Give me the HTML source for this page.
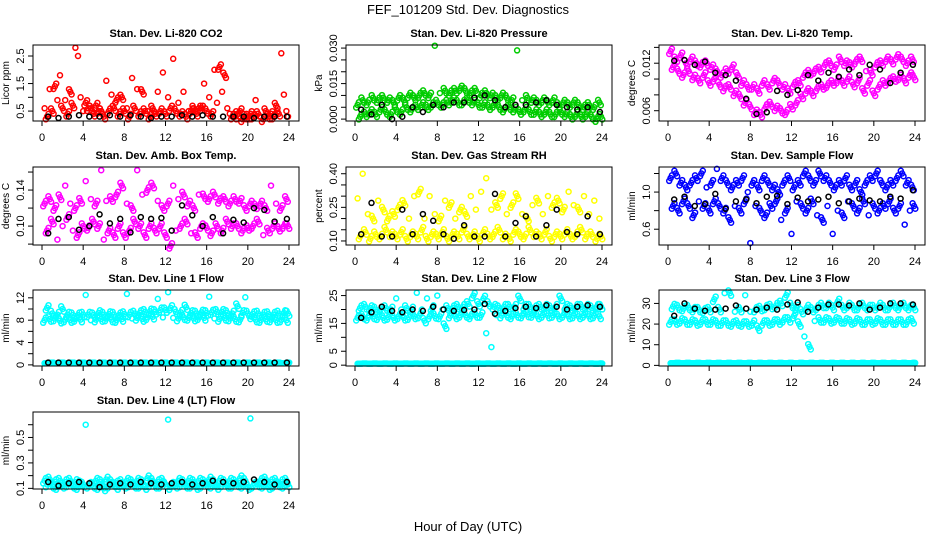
<!DOCTYPE html>
<html><head><meta charset="utf-8">
<style>
html,body{margin:0;padding:0;background:#fff;}
svg{display:block;font-family:"Liberation Sans",sans-serif;}
</style></head>
<body>
<svg id="chart" width="936" height="540" viewBox="0 0 936 540" xmlns="http://www.w3.org/2000/svg">
<text x="468" y="14" text-anchor="middle" font-size="13">FEF_101209  Std. Dev. Diagnostics</text>
<text x="468" y="531" text-anchor="middle" font-size="13">Hour of Day (UTC)</text>
</svg>
<script>
// ---- data ----
const hoursHalf = [0.25,0.75,1.25,1.75,2.25,2.75,3.25,3.75,4.25,4.75,5.25,5.75,6.25,6.75,7.25,7.75,8.25,8.75,9.25,9.75,10.25,10.75,11.25,11.75,12.25,12.75,13.25,13.75,14.25,14.75,15.25,15.75,16.25,16.75,17.25,17.75,18.25,18.75,19.25,19.75,20.25,20.75,21.25,21.75,22.25,22.75,23.25,23.75];
const hoursHalfB = [0.5,1,1.5,2,2.5,3,3.5,4,4.5,5,5.5,6,6.5,7,7.5,8,8.5,9,9.5,10,10.5,11,11.5,12,12.5,13,13.5,14,14.5,15,15.5,16,16.5,17,17.5,18,18.5,19,19.5,20,20.5,21,21.5,22,22.5,23,23.5,23.9];
const hoursBlack = [0.6,1.6,2.6,3.6,4.6,5.6,6.6,7.6,8.6,9.6,10.6,11.6,12.6,13.6,14.6,15.6,16.6,17.6,18.6,19.6,20.6,21.6,22.6,23.8];

const co2A = [0.6,1.3,1.4,1.8,0.9,1.2,2.8,1.0,0.8,0.6,0.7,0.5,1.6,1.1,0.9,1.0,0.6,1.7,1.3,1.2,0.5,0.6,1.2,1.9,1.0,2.4,0.8,1.2,0.5,0.6,0.6,1.5,1.0,2.0,2.1,1.8,0.4,0.3,0.5,0.3,0.4,0.9,0.3,0.5,0.4,0.7,2.6,0.5];
const co2B = [0.3,0.5,0.9,0.6,0.4,0.7,2.5,0.5,0.6,0.4,0.5,0.3,0.5,0.6,0.4,0.5,0.3,0.6,0.4,0.5,0.3,0.4,0.5,0.4,0.6,0.5,0.4,0.3,0.5,0.4,0.6,0.5,0.4,0.8,1.2,0.6,0.3,0.4,0.2,0.3,0.3,0.4,0.2,0.3,0.3,0.4,1.1,0.3];
const co2K = [0.3,0.25,0.3,0.35,0.3,0.3,0.35,0.3,0.35,0.3,0.25,0.3,0.3,0.35,0.3,0.35,0.3,0.3,0.3,0.3,0.25,0.3,0.3,0.3];

const presA = [0.006,0.008,0.007,0.009,0.008,0.009,0.008,0.007,0.009,0.008,0.010,0.009,0.010,0.011,0.010,0.031,0.011,0.012,0.011,0.012,0.013,0.012,0.011,0.012,0.010,0.011,0.010,0.009,0.010,0.009,0.008,0.029,0.008,0.009,0.008,0.007,0.008,0.007,0.008,0.006,0.007,0.006,0.007,0.006,0.005,0.006,0.005,0.007];
const presB = [0.001,0.002,0.003,0.002,0.004,0.003,0.002,0.004,0.003,0.005,0.004,0.005,0.006,0.005,0.006,0.007,0.006,0.007,0.008,0.007,0.007,0.008,0.007,0.006,0.006,0.005,0.006,0.005,0.004,0.005,0.004,0.003,0.004,0.003,0.003,0.002,0.003,0.002,0.002,0.003,0.002,0.001,0.002,0.001,0.002,0.001,0.000,0.001];
const presK = [0.004,0.002,0.006,0.000,0.001,0.005,0.003,0.006,0.005,0.007,0.007,0.009,0.010,0.008,0.005,0.006,0.006,0.007,0.008,0.006,0.005,0.004,0.005,0.003];

const tempA = [0.0135,0.0125,0.013,0.012,0.0125,0.012,0.0118,0.012,0.0115,0.011,0.0105,0.011,0.0115,0.0105,0.0095,0.009,0.009,0.0085,0.0095,0.009,0.0098,0.0095,0.009,0.0085,0.0093,0.0095,0.0105,0.0108,0.011,0.0112,0.0118,0.012,0.0115,0.0125,0.012,0.0118,0.0122,0.0125,0.011,0.0108,0.0118,0.012,0.0125,0.0122,0.0128,0.0125,0.012,0.0125];
const tempB = [0.0115,0.011,0.0105,0.011,0.0102,0.0098,0.0105,0.0095,0.01,0.0093,0.0088,0.009,0.0082,0.0078,0.007,0.0065,0.0058,0.0055,0.0065,0.0068,0.0063,0.006,0.0058,0.0065,0.007,0.0078,0.0085,0.0082,0.0088,0.009,0.0092,0.0095,0.0098,0.0095,0.01,0.0093,0.0098,0.0085,0.0095,0.0082,0.009,0.0095,0.0098,0.01,0.0102,0.0098,0.0105,0.0102];
const tempK = [0.0123,0.0124,0.0118,0.0122,0.0108,0.0105,0.0098,0.0075,0.0056,0.0058,0.0085,0.0080,0.0086,0.0105,0.0098,0.0108,0.0103,0.0112,0.0105,0.0118,0.0112,0.0095,0.0108,0.0118];

const ambA = [0.125,0.13,0.12,0.132,0.145,0.125,0.12,0.128,0.15,0.13,0.125,0.162,0.128,0.13,0.135,0.145,0.125,0.12,0.162,0.135,0.14,0.145,0.128,0.12,0.125,0.145,0.13,0.135,0.125,0.12,0.135,0.133,0.13,0.135,0.128,0.13,0.125,0.13,0.128,0.12,0.125,0.122,0.125,0.12,0.145,0.125,0.12,0.13];
const ambB = [0.095,0.105,0.085,0.1,0.11,0.095,0.09,0.1,0.098,0.105,0.1,0.085,0.095,0.09,0.1,0.09,0.095,0.105,0.1,0.09,0.1,0.095,0.1,0.09,0.078,0.095,0.1,0.105,0.092,0.09,0.1,0.098,0.092,0.1,0.095,0.105,0.1,0.1,0.095,0.098,0.1,0.105,0.09,0.095,0.1,0.097,0.1,0.1];
const ambK = [0.092,0.108,0.11,0.096,0.1,0.113,0.103,0.108,0.093,0.11,0.108,0.109,0.095,0.123,0.112,0.1,0.11,0.092,0.107,0.104,0.12,0.118,0.105,0.108];

const rhA = [0.29,0.4,0.22,0.2,0.28,0.24,0.2,0.22,0.25,0.27,0.2,0.3,0.32,0.2,0.3,0.22,0.2,0.28,0.26,0.2,0.24,0.22,0.3,0.24,0.32,0.38,0.24,0.26,0.3,0.22,0.26,0.3,0.22,0.2,0.26,0.28,0.22,0.3,0.26,0.28,0.24,0.32,0.26,0.24,0.3,0.22,0.28,0.2];
const rhB = [0.12,0.14,0.11,0.13,0.12,0.15,0.13,0.12,0.14,0.11,0.13,0.12,0.15,0.11,0.13,0.12,0.14,0.11,0.13,0.12,0.15,0.12,0.13,0.11,0.14,0.12,0.13,0.15,0.12,0.11,0.14,0.13,0.12,0.15,0.13,0.12,0.14,0.11,0.13,0.12,0.14,0.12,0.13,0.15,0.12,0.13,0.11,0.12];
const rhK = [0.13,0.27,0.12,0.12,0.24,0.13,0.22,0.19,0.13,0.11,0.17,0.12,0.12,0.31,0.12,0.18,0.21,0.12,0.17,0.24,0.14,0.13,0.21,0.13];

const flowA = [1.15,1.2,1.1,1.05,1.1,1.15,1.2,1.05,1.1,1.25,1.15,1.1,1.05,1.1,1.15,1.0,1.1,1.05,1.15,1.1,1.05,1.0,1.1,1.15,1.05,1.1,1.2,1.15,1.1,1.2,1.15,1.1,1.05,1.1,1.15,1.05,1.1,1.0,1.1,1.15,1.2,1.1,1.05,1.1,1.15,1.2,1.1,1.05];
const flowB = [0.85,0.8,0.9,0.85,0.75,0.9,0.85,0.8,0.9,0.85,0.8,0.7,0.85,0.8,0.9,0.45,0.85,0.8,0.75,0.85,0.9,0.7,0.8,0.55,0.9,0.85,0.8,0.9,0.75,0.7,0.85,0.55,0.8,0.75,0.9,0.85,0.8,0.9,0.75,0.85,0.8,0.85,0.9,0.8,0.85,0.65,0.8,0.85];
const flowK = [0.92,0.95,0.85,0.87,0.98,0.82,0.9,0.92,0.88,0.95,0.96,0.87,0.94,0.9,0.92,0.95,0.88,0.9,0.93,0.91,0.9,0.95,0.93,1.02];

const l1A = [8.0,8.2,8.3,7.9,8.1,8.0,8.2,8.1,12.5,8.0,8.1,8.2,8.3,8.1,8.0,8.2,12.7,8.3,8.4,8.2,8.5,8.6,11.8,8.5,13.0,8.4,8.3,8.5,8.4,8.3,8.5,8.4,12.2,8.3,8.2,8.4,8.3,8.2,8.1,12.1,8.2,8.1,8.0,8.2,8.1,8.0,8.1,8.0];
const l1B = [10.2,9.2,9.0,10.0,9.0,8.9,8.9,9.0,9.0,8.9,9.3,9.0,9.1,9.0,8.9,9.1,9.0,9.2,9.3,9.5,9.6,9.5,9.8,9.8,10.2,9.5,9.4,10.3,9.3,9.2,9.4,9.3,9.4,9.5,9.5,9.3,9.2,10.5,9.3,9.2,9.1,9.2,9.0,9.1,9.0,9.2,9.3,9.2];
const l1Z = [0.3,0.4,0.3,0.4,0.3,0.4,0.3,0.4,0.3,0.4,0.3,0.4,0.3,0.4,0.3,0.4,0.3,0.4,0.3,0.4,0.3,0.4,0.3,0.4,0.3,0.4,0.3,0.4,0.3,0.4,0.3,0.4,0.3,0.4,0.3,0.4,0.3,0.4,0.3,0.4,0.3,0.4,0.3,0.4,0.3,0.4,0.3,0.4];
const l1K = [0.4,0.4,0.4,0.4,0.4,0.4,0.4,0.4,0.4,0.4,0.4,0.4,0.4,0.4,0.4,0.4,0.4,0.4,0.4,0.4,0.4,0.4,0.4,0.4];

const l2A = [17,17.5,17,17.5,17.2,17,17.3,17,17.5,17,17.2,17.5,17.8,16,17.5,17.7,17.5,14,17.8,17.5,18,18,17.5,18,18,11.5,6.5,18,17.8,18,17.5,18,17.8,18.2,18,17.5,18,17.8,18,17.5,18,17.5,17.8,17.5,18,17.5,17.8,17.5];
const l2B = [20.5,21,20.5,20,20,20.5,20,24,20,20.5,20,26,20,24,20.5,25,20,20.5,20.5,21,21,22,25,22,24,22,21,20.5,21,21,21,24,21,21,20.5,21,21,20.5,21,24,21,20.5,21,21,21,20.5,21,21];
const l2Z = [0.5,0.6,0.5,0.6,0.5,0.6,0.5,0.6,0.5,0.6,0.5,0.6,0.5,0.6,0.5,0.6,0.5,0.6,0.5,0.6,0.5,0.6,0.5,0.6,0.5,0.6,0.5,0.6,0.5,0.6,0.5,0.6,0.5,0.6,0.5,0.6,0.5,0.6,0.5,0.6,0.5,0.6,0.5,0.6,0.5,0.6,0.5,0.6];
const l2K = [17,19,21,19.5,19,20,19.5,21,20,19.5,19.8,20,22,18.5,19.5,20.5,21,20.5,21.5,21,20,21,21.5,21];

const l3A = [21,21,21.5,21,21,20.5,21,21,21,20.5,20.5,20.5,20,20.5,20,20,20.5,18,20.5,20.5,21,21,22,22,24,20,14,9,21.5,22,22,21.5,22,21.5,21.5,21,21.5,21,21,21,21.5,21,21,21,21,21,21,21.5];
const l3B = [28.5,28,27.5,28,27,27,26.5,27,32,27,35,35,26,27,34,26,27,27.5,28,28.5,29,30,34,29,28,26,28,27,28,29,29,28,31,28,29,28,28,29,28,28,29,28,28,29,28,29,28,28];
const l3Z = [1,1.2,1,1.2,1,1.2,1,1.2,1,1.2,1,1.2,1,1.2,1,1.2,1,1.2,1,1.2,1,1.2,1,1.2,1,1.2,1,1.2,1,1.2,1,1.2,1,1.2,1,1.2,1,1.2,1,1.2,1,1.2,1,1.2,1,1.2,1,1.2];
const l3K = [24,30,27.5,26.5,27,27.5,29,27.5,27,28,27,29.5,30.5,26,28,29.5,29.5,29,30,27,28,30,30,29.5];

const l4A = [0.16,0.17,0.15,0.16,0.15,0.16,0.15,0.14,0.6,0.15,0.16,0.15,0.17,0.15,0.14,0.15,0.16,0.15,0.16,0.15,0.18,0.16,0.15,0.16,0.64,0.15,0.16,0.15,0.16,0.15,0.16,0.15,0.17,0.15,0.16,0.15,0.16,0.15,0.18,0.16,0.65,0.15,0.16,0.17,0.15,0.16,0.15,0.16];
const l4B = [0.13,0.12,0.11,0.12,0.13,0.12,0.11,0.13,0.12,0.12,0.11,0.10,0.12,0.13,0.11,0.12,0.13,0.12,0.12,0.11,0.13,0.12,0.12,0.13,0.11,0.12,0.13,0.12,0.12,0.11,0.12,0.13,0.12,0.11,0.13,0.12,0.12,0.13,0.12,0.11,0.12,0.13,0.12,0.11,0.12,0.13,0.12,0.13];
const l4K = [0.15,0.12,0.14,0.15,0.14,0.11,0.13,0.14,0.13,0.15,0.14,0.13,0.14,0.15,0.13,0.14,0.16,0.15,0.14,0.15,0.17,0.15,0.13,0.15];

const xTicks = [0,4,8,12,16,20,24];

// ---- panels ----
const NS = 'http://www.w3.org/2000/svg';
const svg = document.getElementById('chart');
function mk(tag, attrs, parent){
  const e = document.createElementNS(NS, tag);
  for (const k in attrs) e.setAttribute(k, attrs[k]);
  (parent||svg).appendChild(e);
  return e;
}
const colX0 = [42, 355, 668];
const rowTop = [45, 167, 290, 412];
const rowBot = [121, 245, 366, 489];
const panels = [
  {name:'co2', title:'Stan. Dev. Li-820 CO2', ylab:'Licor ppm', col:0,row:0, color:'#ff0000', series:[co2A,co2B], zero:null, k:co2K, ymin:0.14, ymax:2.9, ticks:[0.5,1,1.5,2,2.5], labels:['0.5','','1.5','','2.5']},
  {name:'pressure', title:'Stan. Dev. Li-820 Pressure', ylab:'kPa', col:1,row:0, color:'#00cc00', series:[presA,presB], zero:null, k:presK, ymin:-0.0008, ymax:0.0313, ticks:[0,0.005,0.01,0.015,0.02,0.025,0.03], labels:['0.000','','','0.015','','','0.030']},
  {name:'li820-temp', title:'Stan. Dev. Li-820 Temp.', ylab:'degrees C', col:2,row:0, color:'#ff00ff', series:[tempA,tempB], zero:null, k:tempK, ymin:0.0047, ymax:0.0143, ticks:[0.006,0.008,0.01,0.012,0.014], labels:['0.006','','','0.012','']},
  {name:'amb-box-temp', title:'Stan. Dev. Amb. Box Temp.', ylab:'degrees C', col:0,row:1, color:'#ff00ff', series:[ambA,ambB], zero:null, k:ambK, ymin:0.079, ymax:0.1656, ticks:[0.08,0.1,0.12,0.14,0.16], labels:['','0.10','','0.14','']},
  {name:'gas-rh', title:'Stan. Dev. Gas Stream RH', ylab:'percent', col:1,row:1, color:'#ffff00', series:[rhA,rhB], zero:null, k:rhK, ymin:0.082, ymax:0.43, ticks:[0.1,0.15,0.2,0.25,0.3,0.35,0.4], labels:['0.10','','','0.25','','','0.40']},
  {name:'sample-flow', title:'Stan. Dev. Sample Flow', ylab:'ml/min', col:2,row:1, color:'#0000ff', series:[flowA,flowB], zero:null, k:flowK, ymin:0.43, ymax:1.27, ticks:[0.6,0.8,1.0,1.2], labels:['0.6','','1.0','']},
  {name:'line1-flow', title:'Stan. Dev. Line 1 Flow', ylab:'ml/min', col:0,row:2, color:'#00ffff', series:[l1A,l1B], zero:l1Z, k:l1K, ymin:-0.2, ymax:13.4, ticks:[0,2,4,6,8,10,12], labels:['0','','4','','8','','12']},
  {name:'line2-flow', title:'Stan. Dev. Line 2 Flow', ylab:'ml/min', col:1,row:2, color:'#00ffff', series:[l2A,l2B], zero:l2Z, k:l2K, ymin:-0.3, ymax:27, ticks:[0,5,10,15,20,25], labels:['0','5','','15','','25']},
  {name:'line3-flow', title:'Stan. Dev. Line 3 Flow', ylab:'ml/min', col:2,row:2, color:'#00ffff', series:[l3A,l3B], zero:l3Z, k:l3K, ymin:-0.3, ymax:36.5, ticks:[0,10,20,30], labels:['0','10','20','30']},
  {name:'line4-flow', title:'Stan. Dev. Line 4 (LT) Flow', ylab:'ml/min', col:0,row:3, color:'#00ffff', series:[l4A,l4B], zero:null, k:l4K, ymin:0.095, ymax:0.7, ticks:[0.1,0.2,0.3,0.4,0.5,0.6], labels:['0.1','','0.3','','0.5','']}
];

panels.forEach(p => {
  const x0 = colX0[p.col], W = 247;
  const top = rowTop[p.row], bot = rowBot[p.row];
  const bl = x0 - 9, br = x0 + W + 10;
  const xs = v => x0 + v / 24 * W;
  const ys = v => bot - (v - p.ymin) / (p.ymax - p.ymin) * (bot - top);
  const g = mk('g', {});
  
  
  const t = mk('text', {x:(bl+br)/2, y:top-8, 'text-anchor':'middle', 'font-size':'11', 'font-weight':'bold'}, g);
  t.textContent = p.title;
  
  
  const pts = mk('g', {fill:'none', 'stroke-width':'1.5'}, g);
  
  
  const dot = (xv, yv, col) => {
    const c = mk('circle', {cx:xs(xv).toFixed(1), cy:ys(yv).toFixed(1), r:'2.5', stroke:col}, pts);
    
    
  };
  const d = 0.035 * (p.ymax - p.ymin);
  if (p.zero) {
    p.zero.forEach((v,i) => { dot(hoursHalf[i], v, p.color); dot(hoursHalfB[i], v, p.color); dot(hoursHalf[i]+0.12, v, p.color); dot(hoursHalfB[i]+0.12, v, p.color); });
  }
  p.series.forEach((arr, si) => {
    const hx = si === 0 ? hoursHalf : hoursHalfB;
    arr.forEach((v,i) => {
      dot(hx[i], v, p.color);
      const nb = arr[i > 0 ? i-1 : i+1];
      if (Math.abs(v - nb) < 4*d) {
        const s = (i % 2 === 0) ? 1 : -1;
        dot(hx[i] + 0.13, v + s*d, p.color);
        dot(hx[i] - 0.13, v - s*d, p.color);
      }
    });
  });
  p.k.forEach((v,i) => dot(hoursBlack[i], v, '#000'));
  const box = mk('rect', {x:bl, y:top, width:br-bl, height:bot-top, fill:'none', stroke:'#000', 'stroke-width':'1'}, g);
  
  
  // x axis
  const xa = mk('g', {stroke:'#000'}, g);
  
  
  mk('line', {x1:xs(0), x2:xs(24), y1:bot, y2:bot}, xa);
  xTicks.forEach(v => {
    mk('line', {x1:xs(v), x2:xs(v), y1:bot, y2:bot+5}, xa);
    const tl = mk('text', {x:xs(v), y:bot+20, 'text-anchor':'middle', 'font-size':'11', stroke:'none'}, xa);
    tl.textContent = v;
  });
  // y axis
  const ya = mk('g', {stroke:'#000'}, g);
  
  
  mk('line', {x1:bl, x2:bl, y1:ys(p.ticks[0]), y2:ys(p.ticks[p.ticks.length-1])}, ya);
  p.ticks.forEach((v,i) => {
    mk('line', {x1:bl-5, x2:bl, y1:ys(v), y2:ys(v)}, ya);
    if (p.labels[i]) {
      const yy = ys(v);
      const tl = mk('text', {x:bl-9, y:yy, 'text-anchor':'middle', 'font-size':'11', stroke:'none', transform:`rotate(-90 ${bl-9} ${yy})`}, ya);
      tl.textContent = p.labels[i];
    }
  });
  const ym = (top+bot)/2;
  const yl = mk('text', {x:bl-24, y:ym, 'text-anchor':'middle', 'font-size':'10', transform:`rotate(-90 ${bl-24} ${ym})`}, g);
  yl.textContent = p.ylab;
  
  
});
</script>
</body></html>
